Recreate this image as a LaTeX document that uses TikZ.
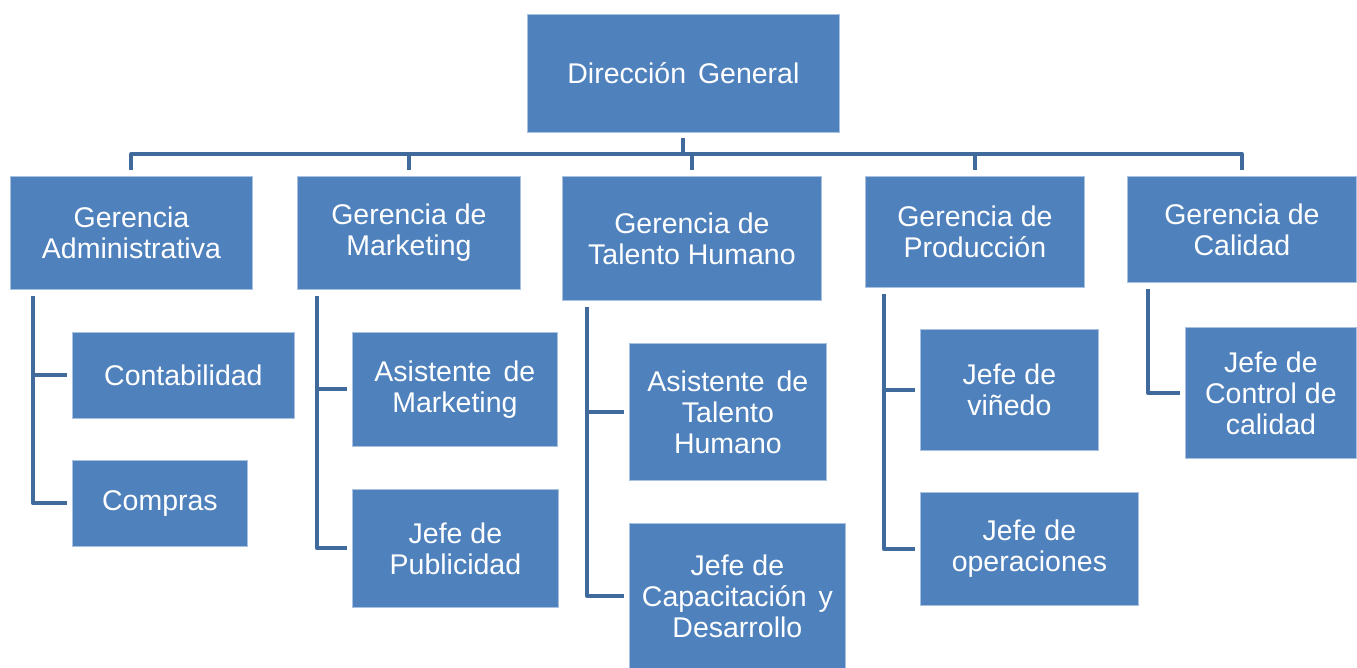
\documentclass[tikz,border=0pt]{standalone}
\usepackage{fontspec}
\setmainfont{Liberation Sans}
\definecolor{boxblue}{HTML}{4F81BD}
\definecolor{connblue}{HTML}{416A9C}
\definecolor{boxedge}{HTML}{A9C1E0}
\newcommand{\xsp}{\hspace{4pt}}
\begin{document}
\begin{tikzpicture}[x=1pt,y=-1pt,
  box/.style={rectangle, fill=boxblue, draw=boxedge, line width=0.8pt, anchor=north west,
    inner sep=0pt, align=center, text=white, font=\fontsize{28.5}{31}\selectfont},
  conn/.style={draw=connblue, line width=4pt, line join=round, line cap=butt}]
\useasboundingbox (0,0) rectangle (1357,668);
% top
\node[box, minimum width=312pt, minimum height=118pt] (dg) at (527,14) {Direcci\'on\xsp{} General};
% managers
\node[box, minimum width=242pt, minimum height=113pt] (ga) at (10,176) {Gerencia\\Administrativa};
\node[box, minimum width=223pt, minimum height=113pt] (gm) at (297,176) {Gerencia de\\Marketing};
\node[box, minimum width=259pt, minimum height=124pt] (gt) at (562,176) {Gerencia de\\Talento Humano};
\node[box, minimum width=219pt, minimum height=111pt] (gp) at (865,176) {Gerencia de\\Producci\'on};
\node[box, minimum width=229pt, minimum height=106pt] (gc) at (1127,176) {Gerencia de\\Calidad};
% children
\node[box, minimum width=222pt, minimum height=86pt] (con) at (72,332) {Contabilidad};
\node[box, minimum width=175pt, minimum height=86pt] (com) at (72,460) {Compras};
\node[box, minimum width=205pt, minimum height=114pt] (am) at (352,332) {Asistente\xsp{} de\\Marketing};
\node[box, minimum width=206pt, minimum height=118pt] (pub) at (352,489) {Jefe de\\Publicidad};
\node[box, minimum width=197pt, minimum height=137pt] (ath) at (629,343) {Asistente\xsp{} de\\Talento\\Humano};
\node[box, minimum width=216pt, minimum height=145pt] (cap) at (629,523) {Jefe de\\Capacitaci\'on\xsp{} y\\Desarrollo};
\node[box, minimum width=178pt, minimum height=121pt] (vin) at (920,329) {Jefe de\\vi\~nedo};
\node[box, minimum width=218pt, minimum height=113pt] (ope) at (920,492) {Jefe de\\operaciones};
\node[box, minimum width=171pt, minimum height=131pt] (ctrl) at (1185,327) {Jefe de\\Control de\\calidad};
% bus
\coordinate (busl) at ([yshift=22pt]ga.north);
\coordinate (busr) at ([yshift=22pt]gc.north);
\draw[conn] ([yshift=-5pt]dg.south) -- (dg.south |- busl);
\draw[conn] ([yshift=6pt]ga.north) -- (busl) -- (busr) -- ([yshift=6pt]gc.north);
\foreach \g in {gm,gt,gp}{
  \draw[conn] ([yshift=6pt]\g.north) -- ([yshift=22pt]\g.north);
}
% child trunks
\coordinate (ta) at ([xshift=23pt,yshift=-6pt]ga.south west);
\coordinate (tm) at ([xshift=20pt,yshift=-6pt]gm.south west);
\coordinate (tt) at ([xshift=25pt,yshift=-6pt]gt.south west);
\coordinate (tp) at ([xshift=19pt,yshift=-6pt]gp.south west);
\coordinate (tc) at ([xshift=21pt,yshift=-6pt]gc.south west);
\draw[conn] (ta) |- ([xshift=-5pt]con.west);
\draw[conn] (ta) |- ([xshift=-5pt]com.west);
\draw[conn] (tm) |- ([xshift=-5pt]am.west);
\draw[conn] (tm) |- ([xshift=-5pt]pub.west);
\draw[conn] (tt) |- ([xshift=-5pt]ath.west);
\draw[conn] (tt) |- ([xshift=-5pt]cap.west);
\draw[conn] (tp) |- ([xshift=-5pt]vin.west);
\draw[conn] (tp) |- ([xshift=-5pt]ope.west);
\draw[conn] (tc) |- ([xshift=-5pt]ctrl.west);
\end{tikzpicture}
\end{document}
